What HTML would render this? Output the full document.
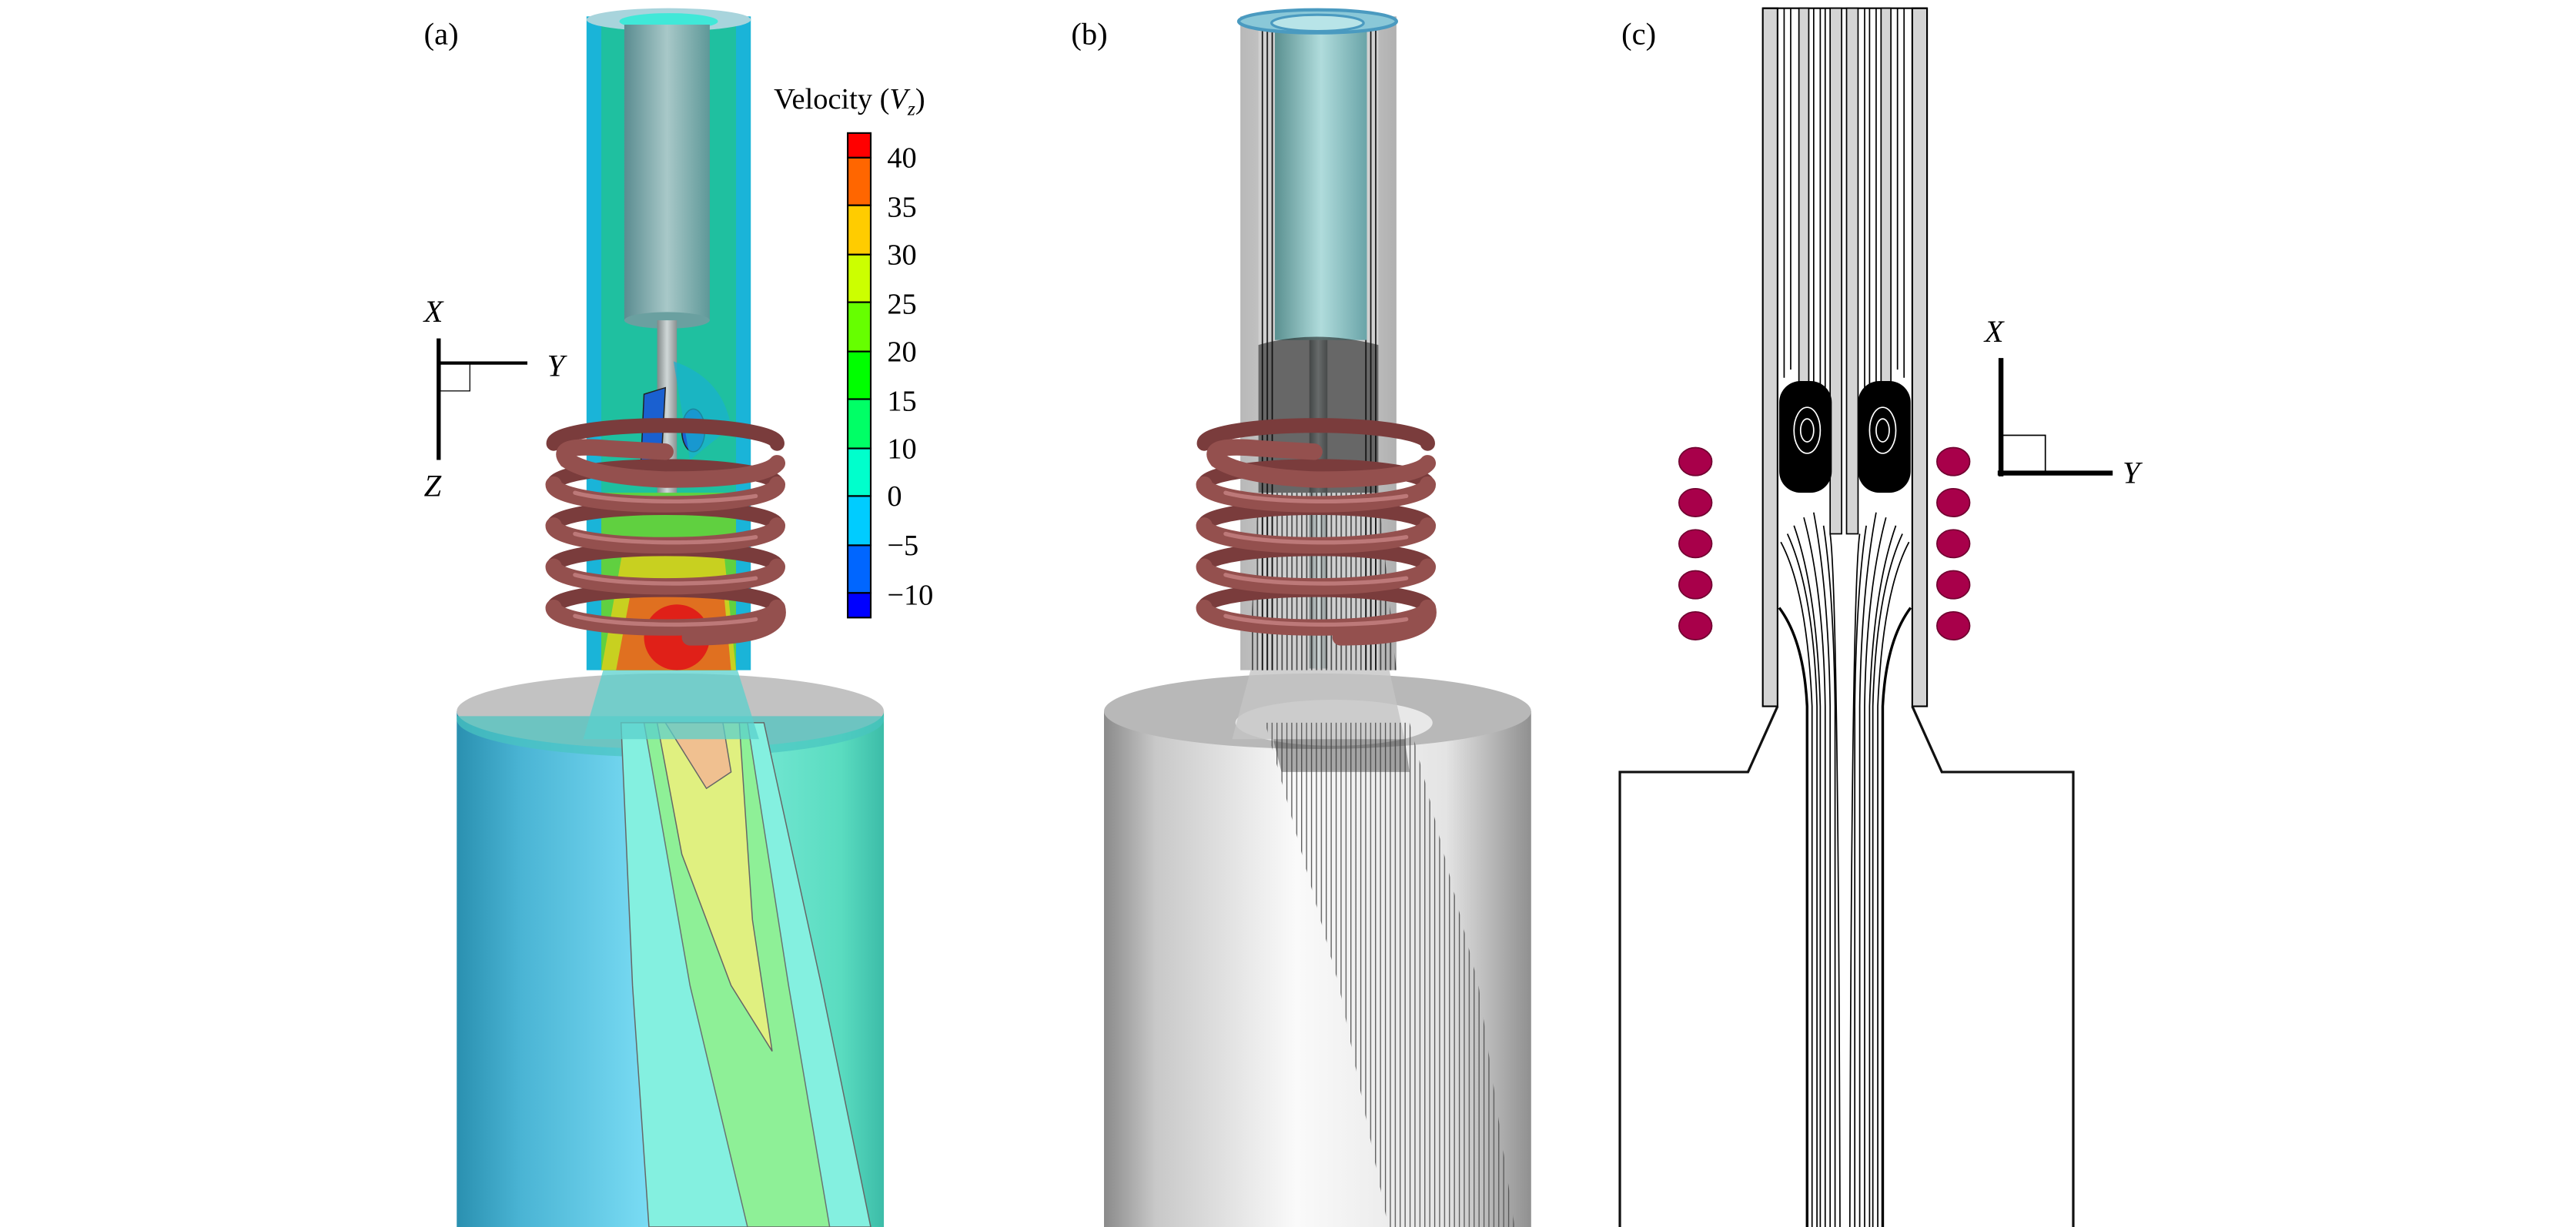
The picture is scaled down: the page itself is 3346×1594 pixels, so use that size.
<!DOCTYPE html>
<html><head><meta charset="utf-8"><style>
html,body{margin:0;padding:0;background:#fff;}
svg{display:block;}
text{font-family:"Liberation Serif",serif;fill:#000;}
</style></head><body>
<svg width="3346" height="1594" viewBox="0 0 1568 747" xmlns="http://www.w3.org/2000/svg">
<defs>
<linearGradient id="cylA" x1="0" x2="1" y1="0" y2="0">
<stop offset="0" stop-color="#2a90b0"/><stop offset="0.15" stop-color="#4ab4d4"/><stop offset="0.45" stop-color="#7adcf4"/><stop offset="0.6" stop-color="#80ecdc"/><stop offset="0.9" stop-color="#5adcc0"/><stop offset="1" stop-color="#3cbca8"/></linearGradient>
<linearGradient id="cylB" x1="0" x2="1" y1="0" y2="0">
<stop offset="0" stop-color="#8a8a8a"/><stop offset="0.12" stop-color="#c8c8c8"/><stop offset="0.45" stop-color="#fafafa"/><stop offset="0.8" stop-color="#e4e4e4"/><stop offset="1" stop-color="#909090"/></linearGradient>
<linearGradient id="inner" x1="0" x2="1" y1="0" y2="0">
<stop offset="0" stop-color="#5a8c90"/><stop offset="0.5" stop-color="#a8c8c8"/><stop offset="1" stop-color="#5e9898"/></linearGradient>
<linearGradient id="innerB" x1="0" x2="1" y1="0" y2="0">
<stop offset="0" stop-color="#5a9090"/><stop offset="0.5" stop-color="#b0dcdc"/><stop offset="1" stop-color="#6aa4a8"/></linearGradient>
<linearGradient id="rod" x1="0" x2="1"><stop offset="0" stop-color="#808888"/><stop offset="0.5" stop-color="#d0d8d8"/><stop offset="1" stop-color="#8a9090"/></linearGradient>
<linearGradient id="tubeB" x1="0" x2="1"><stop offset="0" stop-color="#b8b8b8"/><stop offset="0.5" stop-color="#dcdcdc"/><stop offset="1" stop-color="#b0b0b0"/></linearGradient>
<pattern id="lines" width="3" height="10" patternUnits="userSpaceOnUse"><rect width="0.6" height="10" fill="#555"/></pattern>
<pattern id="linesK" width="3" height="10" patternUnits="userSpaceOnUse"><rect width="0.8" height="10" fill="#111"/></pattern>
</defs>

<!-- ========== PANEL A ========== -->
<text x="258" y="27" font-size="19">(a)</text>
<rect x="278" y="433" width="260" height="314" fill="url(#cylA)"/>
<ellipse cx="408" cy="433" rx="130" ry="23" fill="#c2c2c2"/>
<path d="M278 438 A130 23 0 0 0 538 438 L538 436 L278 436Z" fill="#48c4c0" opacity="0.7"/>
<path d="M378 440 L465 440 L500 600 L530 747 L395 747 L385 600Z" fill="#84f0e0" stroke="#666" stroke-width="0.7"/>
<path d="M392 440 L455 440 L480 600 L505 747 L455 747 L420 600Z" fill="#90f090" stroke="#666" stroke-width="0.7" opacity="0.9"/>
<path d="M400 440 L450 440 L458 560 L470 640 L445 600 L415 520Z" fill="#e0f080" stroke="#666" stroke-width="0.7"/>
<path d="M405 440 L440 440 L445 470 L430 480Z" fill="#f0c090" stroke="#666" stroke-width="0.7"/>
<path d="M368 405 L448 405 L462 450 L355 450Z" fill="#5ad0cc" opacity="0.75"/>
<rect x="357" y="10" width="100" height="398" fill="#1ab4d8"/>
<rect x="366" y="12" width="82" height="396" fill="#1fc0a0"/>
<ellipse cx="407" cy="12" rx="50" ry="7" fill="#a8d4dc"/>
<ellipse cx="407" cy="13" rx="30" ry="5" fill="#40e8d8"/>
<rect x="380" y="15" width="52" height="180" fill="url(#inner)"/>
<ellipse cx="406" cy="195" rx="26" ry="5" fill="#6aa0a0"/>
<rect x="400" y="195" width="12" height="110" fill="url(#rod)"/>
<path d="M392 240 L405 236 L402 290 L390 285Z" fill="#1a60d0" stroke="#222" stroke-width="0.7"/>
<ellipse cx="422" cy="262" rx="7" ry="13" fill="#1a60d0" stroke="#222" stroke-width="0.7"/>
<path d="M410 220 Q440 230 445 260 L420 280 Z" fill="#18b0d0" opacity="0.7"/>
<path d="M366 300 L448 300 L448 408 L366 408Z" fill="#60d040"/>
<path d="M380 330 L440 330 L448 408 L366 408Z" fill="#c8d020"/>
<path d="M385 355 L440 355 L445 408 L375 408Z" fill="#e07020"/>
<ellipse cx="412" cy="388" rx="20" ry="20" fill="#e02018"/>
<g fill="none" stroke-linecap="round">
<g stroke="#7a3c3c" stroke-width="9">
<path d="M337 270 A68 11 0 0 1 473 270"/><path d="M337 295 A68 11 0 0 1 473 295"/><path d="M337 320 A68 11 0 0 1 473 320"/><path d="M337 345 A68 11 0 0 1 473 345"/><path d="M337 370 A68 11 0 0 1 473 370"/></g>
<g stroke="#94504e" stroke-width="10">
<path d="M405 275 L370 273 Q337 270 345 280 Q360 290 405 292 Q465 292 473 282"/>
<path d="M337 295 A68 12 0 0 0 473 295"/><path d="M337 320 A68 12 0 0 0 473 320"/><path d="M337 345 A68 12 0 0 0 473 345"/><path d="M337 370 A68 12 0 0 0 473 370"/>
<path d="M473 370 Q478 388 420 388"/></g>
<g stroke="#c88484" stroke-width="2.5" opacity="0.8">
<path d="M350 300 A68 10 0 0 0 460 302"/><path d="M350 325 A68 10 0 0 0 460 327"/><path d="M350 350 A68 10 0 0 0 460 352"/><path d="M350 375 A68 10 0 0 0 460 377"/></g>
</g>
<line x1="267" y1="206" x2="267" y2="280" stroke="#000" stroke-width="2.5"/>
<line x1="267" y1="221" x2="321" y2="221" stroke="#000" stroke-width="2"/>
<rect x="268" y="221" width="18" height="17" fill="none" stroke="#000" stroke-width="0.6"/>
<text x="258" y="196" font-size="19" font-style="italic">X</text>
<text x="333" y="229" font-size="19" font-style="italic">Y</text>
<text x="258" y="302" font-size="19" font-style="italic">Z</text>
<text x="471" y="66" font-size="18">Velocity (<tspan font-style="italic">V</tspan><tspan font-style="italic" font-size="12" dy="4">z</tspan><tspan dy="-4">)</tspan></text>
<g stroke="#000" stroke-width="1">
<rect x="516" y="81" width="14" height="15" fill="#ff0000"/>
<rect x="516" y="96" width="14" height="29" fill="#ff6600"/>
<rect x="516" y="125" width="14" height="30" fill="#ffcc00"/>
<rect x="516" y="155" width="14" height="29" fill="#ccff00"/>
<rect x="516" y="184" width="14" height="30" fill="#66ff00"/>
<rect x="516" y="214" width="14" height="29" fill="#00ff00"/>
<rect x="516" y="243" width="14" height="30" fill="#00ff66"/>
<rect x="516" y="273" width="14" height="29" fill="#00ffcc"/>
<rect x="516" y="302" width="14" height="30" fill="#00ccff"/>
<rect x="516" y="332" width="14" height="29" fill="#0066ff"/>
<rect x="516" y="361" width="14" height="15" fill="#0000ff"/>
</g>
<g font-size="18">
<text x="540" y="102">40</text><text x="540" y="132">35</text><text x="540" y="161">30</text><text x="540" y="191">25</text><text x="540" y="220">20</text><text x="540" y="250">15</text><text x="540" y="279">10</text><text x="540" y="308">0</text><text x="540" y="338">−5</text><text x="540" y="368">−10</text>
</g>

<!-- ========== PANEL B ========== -->
<text x="652" y="27" font-size="19">(b)</text>
<rect x="672" y="433" width="260" height="314" fill="url(#cylB)"/>
<ellipse cx="802" cy="433" rx="130" ry="23" fill="#b8b8b8"/>
<ellipse cx="812" cy="440" rx="60" ry="14" fill="#e8e8e8"/>
<path d="M762 405 L845 405 L855 450 L750 450Z" fill="#c4c4c4" opacity="0.8"/>
<path d="M770 440 L858 440 L900 600 L922 747 L845 747 L815 600Z" fill="url(#lines)"/>
<path d="M775 450 L855 450 L858 470 L780 470Z" fill="#333" opacity="0.4"/>
<rect x="755" y="10" width="95" height="398" fill="url(#tubeB)"/>
<rect x="766" y="14" width="73" height="394" fill="#d0d0d0"/>
<rect x="766" y="14" width="10" height="394" fill="url(#linesK)"/>
<rect x="829" y="14" width="10" height="394" fill="url(#linesK)"/>
<rect x="776" y="15" width="56" height="192" fill="url(#innerB)"/>
<ellipse cx="802" cy="13" rx="48" ry="7" fill="#8ac8d8" stroke="#4a9ac0" stroke-width="2"/>
<ellipse cx="802" cy="14" rx="28" ry="5" fill="#b8e4e8" stroke="#4a9ac0" stroke-width="1.5"/>
<rect x="797" y="207" width="11" height="200" fill="url(#rod)"/>
<path d="M766 210 Q800 200 839 210 L839 300 L766 300Z" fill="#111" opacity="0.55"/>
<path d="M766 300 L839 300 L850 408 L760 408Z" fill="url(#linesK)" opacity="0.7"/>
<g fill="none" stroke-linecap="round">
<g stroke="#7a3c3c" stroke-width="9">
<path d="M733 270 A68 11 0 0 1 869 270"/><path d="M733 295 A68 11 0 0 1 869 295"/><path d="M733 320 A68 11 0 0 1 869 320"/><path d="M733 345 A68 11 0 0 1 869 345"/><path d="M733 370 A68 11 0 0 1 869 370"/></g>
<g stroke="#94504e" stroke-width="10">
<path d="M800 275 L766 273 Q733 270 741 280 Q756 290 801 292 Q861 292 869 282"/>
<path d="M733 295 A68 12 0 0 0 869 295"/><path d="M733 320 A68 12 0 0 0 869 320"/><path d="M733 345 A68 12 0 0 0 869 345"/><path d="M733 370 A68 12 0 0 0 869 370"/>
<path d="M869 370 Q874 388 816 388"/></g>
<g stroke="#c88484" stroke-width="2.5" opacity="0.8">
<path d="M746 300 A68 10 0 0 0 856 302"/><path d="M746 325 A68 10 0 0 0 856 327"/><path d="M746 350 A68 10 0 0 0 856 352"/><path d="M746 375 A68 10 0 0 0 856 377"/></g>
</g>

<!-- ========== PANEL C ========== -->
<text x="987" y="27" font-size="19">(c)</text>
<rect x="1073" y="5" width="9" height="425" fill="#d4d4d4" stroke="#000" stroke-width="1"/>
<rect x="1164" y="5" width="9" height="425" fill="#d4d4d4" stroke="#000" stroke-width="1"/>
<line x1="1073" y1="5" x2="1173" y2="5" stroke="#000" stroke-width="1"/>
<rect x="1095" y="5" width="6" height="255" fill="#d4d4d4" stroke="#000" stroke-width="0.8"/>
<rect x="1145" y="5" width="6" height="255" fill="#d4d4d4" stroke="#000" stroke-width="0.8"/>
<rect x="1114" y="5" width="7" height="320" fill="#d4d4d4" stroke="#000" stroke-width="0.8"/>
<rect x="1124" y="5" width="7" height="320" fill="#d4d4d4" stroke="#000" stroke-width="0.8"/>
<g stroke="#000" stroke-width="0.8" fill="none">
<path d="M1086 5 V230"/><path d="M1090 5 V225"/><path d="M1104 5 V240"/><path d="M1108 5 V235"/><path d="M1111 5 V250"/>
<path d="M1135 5 V250"/><path d="M1138 5 V235"/><path d="M1142 5 V240"/><path d="M1155 5 V225"/><path d="M1159 5 V230"/>
<path d="M1084 330 Q1100 360 1103 430 V747"/><path d="M1088 325 Q1104 360 1106 430 V747"/><path d="M1092 320 Q1106 360 1108 430 V747"/><path d="M1098 315 Q1110 360 1111 430 V747"/><path d="M1104 312 Q1113 360 1114 430 V747"/><path d="M1110 320 Q1116 360 1117 430 V747"/><path d="M1114 325 Q1119 360 1120 747"/>
<path d="M1162 330 Q1146 360 1143 430 V747"/><path d="M1158 325 Q1142 360 1140 430 V747"/><path d="M1154 320 Q1140 360 1138 430 V747"/><path d="M1148 315 Q1136 360 1135 430 V747"/><path d="M1142 312 Q1133 360 1132 430 V747"/><path d="M1136 320 Q1130 360 1129 430 V747"/><path d="M1132 325 Q1127 360 1126 747"/>
</g>
<g stroke="#000" stroke-width="1.6" fill="none">
<path d="M1083 370 Q1098 390 1100 430 V747"/><path d="M1163 370 Q1148 390 1146 430 V747"/>
</g>
<rect x="1083" y="232" width="32" height="68" rx="13" fill="#000"/>
<rect x="1131" y="232" width="32" height="68" rx="13" fill="#000"/>
<g fill="none" stroke="#fff" stroke-width="0.8">
<ellipse cx="1100" cy="262" rx="8" ry="14"/><ellipse cx="1100" cy="262" rx="4" ry="7"/>
<ellipse cx="1146" cy="262" rx="8" ry="14"/><ellipse cx="1146" cy="262" rx="4" ry="7"/></g>
<path d="M1082 430 L1064 470 L986 470 L986 747" fill="none" stroke="#111" stroke-width="1.5"/>
<path d="M1164 430 L1182 470 L1262 470 L1262 747" fill="none" stroke="#111" stroke-width="1.5"/>
<g fill="#a8004a" stroke="#700030" stroke-width="0.8">
<ellipse cx="1032" cy="281" rx="10" ry="8.5"/><ellipse cx="1032" cy="306" rx="10" ry="8.5"/><ellipse cx="1032" cy="331" rx="10" ry="8.5"/><ellipse cx="1032" cy="356" rx="10" ry="8.5"/><ellipse cx="1032" cy="381" rx="10" ry="8.5"/>
<ellipse cx="1189" cy="281" rx="10" ry="8.5"/><ellipse cx="1189" cy="306" rx="10" ry="8.5"/><ellipse cx="1189" cy="331" rx="10" ry="8.5"/><ellipse cx="1189" cy="356" rx="10" ry="8.5"/><ellipse cx="1189" cy="381" rx="10" ry="8.5"/>
</g>
<line x1="1218" y1="218" x2="1218" y2="290" stroke="#000" stroke-width="3"/>
<line x1="1216" y1="288" x2="1286" y2="288" stroke="#000" stroke-width="3"/>
<rect x="1219" y="265" width="26" height="22" fill="none" stroke="#000" stroke-width="0.8"/>
<text x="1208" y="208" font-size="19" font-style="italic">X</text>
<text x="1292" y="294" font-size="19" font-style="italic">Y</text>
</svg>
</body></html>
